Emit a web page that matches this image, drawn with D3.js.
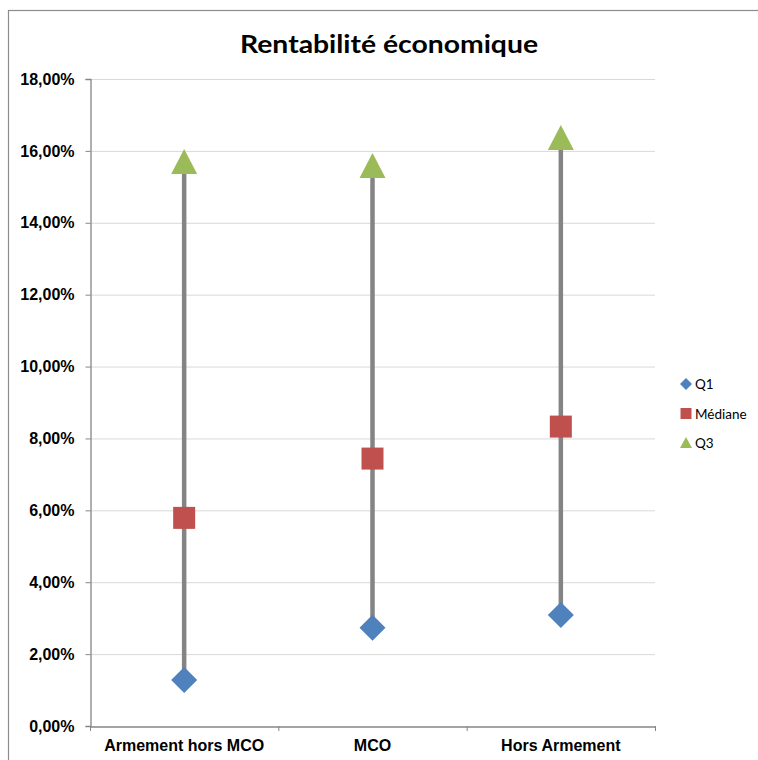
<!DOCTYPE html>
<html><head><meta charset="utf-8">
<script src="https://cdn.jsdelivr.net/npm/d3@7"></script>
<style>body{margin:0;background:#fff}svg{display:block}</style>
</head><body><div id="chart"></div>
<script>
const categories = ["Armement hors MCO", "MCO", "Hors Armement"];
const q1 = [0.0128, 0.0273, 0.0309];
const mediane = [0.0579, 0.0744, 0.0833];
const q3 = [0.1569, 0.1558, 0.1636];
const yTicks = [0, 0.02, 0.04, 0.06, 0.08, 0.10, 0.12, 0.14, 0.16, 0.18];
const seriesNames = ["Q1", "Médiane", "Q3"];

const W = 758, H = 760;
const svg = d3.select("#chart").append("svg").attr("width", W).attr("height", H);
svg.append("rect").attr("x", 8.5).attr("y", 10.5).attr("width", 760).attr("height", 770)
  .attr("fill", "#fff").attr("stroke", "#8c8c8c").attr("stroke-width", 1.2);

const plot = {l: 90, r: 655, t: 79, b: 726};
const x = d3.scaleBand().domain(categories).range([plot.l, plot.r]);
const y = d3.scaleLinear().domain([0, 0.18]).range([plot.b, plot.t]);
const fmt = v => d3.format(".2f")(v * 100).replace(".", ",") + "%";

// gridlines
svg.append("g").selectAll("line").data(yTicks.filter(d => d > 0)).join("line")
  .attr("x1", plot.l).attr("x2", plot.r).attr("y1", d => y(d) + 0.5).attr("y2", d => y(d) + 0.5)
  .attr("stroke", "#d9d9d9").attr("stroke-width", 1);

// y axis
const yAxis = svg.append("g").attr("transform", `translate(${plot.l + 0.5},0)`)
  .call(d3.axisLeft(y).tickValues(yTicks).tickFormat(fmt).tickSize(5).tickPadding(11));
yAxis.select(".domain").attr("stroke", "#868686").attr("stroke-width", 1.3);
yAxis.selectAll(".tick line").attr("stroke", "#868686");
yAxis.selectAll("text").attr("font-family", "Liberation Sans, Arial, sans-serif")
  .attr("font-weight", "bold").attr("font-size", 16).attr("fill", "#000");

// x axis
const xAxis = svg.append("g").attr("transform", `translate(0,${plot.b + 0.5})`)
  .call(d3.axisBottom(x).tickSize(0).tickPadding(13));
xAxis.select(".domain").attr("stroke", "#868686").attr("stroke-width", 1.3);
xAxis.selectAll("text").attr("font-family", "Liberation Sans, Arial, sans-serif")
  .attr("font-weight", "bold").attr("font-size", 16).attr("fill", "#000");
// category boundary ticks
const bounds = categories.map(c => x(c)).concat([plot.r]);
svg.append("g").selectAll("line").data(bounds).join("line")
  .attr("x1", d => d + 0.5).attr("x2", d => d + 0.5).attr("y1", plot.b).attr("y2", plot.b + 5)
  .attr("stroke", "#868686");

const cx = c => x(c) + x.bandwidth() / 2;

// high-low lines
svg.append("g").selectAll("line").data(categories).join("line")
  .attr("x1", cx).attr("x2", cx).attr("y1", (c, i) => y(q1[i])).attr("y2", (c, i) => y(q3[i]))
  .attr("stroke", "#848484").attr("stroke-width", 4.5);

const diamond = "M0,-13L13,0L0,13L-13,0Z";
const square = "M-11,-11H11V11H-11Z";
const tri = "M0,-13L13,12L-13,12Z";

svg.append("g").selectAll("path").data(categories).join("path")
  .attr("d", diamond).attr("fill", "#4f81bd")
  .attr("transform", (c, i) => `translate(${cx(c)},${y(q1[i])})`);
svg.append("g").selectAll("path").data(categories).join("path")
  .attr("d", square).attr("fill", "#c0504d")
  .attr("transform", (c, i) => `translate(${cx(c)},${y(mediane[i])})`);
svg.append("g").selectAll("path").data(categories).join("path")
  .attr("d", tri).attr("fill", "#9bbb59")
  .attr("transform", (c, i) => `translate(${cx(c)},${y(q3[i])})`);

// title
svg.append("text").attr("x", 389).attr("y", 53).attr("text-anchor", "middle")
  .attr("font-family", "Lato, 'Open Sans', sans-serif").attr("font-weight", "bold")
  .attr("font-size", 25).attr("textLength", 298).attr("lengthAdjust", "spacingAndGlyphs")
  .text("Rentabilité économique");

// legend
const legendShapes = [
  {d: "M0,-6L6,0L0,6L-6,0Z", fill: "#4f81bd"},
  {d: "M-5.5,-5.5H5.5V5.5H-5.5Z", fill: "#c0504d"},
  {d: "M0,-6L6,5L-6,5Z", fill: "#9bbb59"}
];
const lg = svg.append("g").selectAll("g").data(seriesNames).join("g")
  .attr("transform", (d, i) => `translate(686,${384 + i * 29.5})`);
lg.append("path").attr("d", (d, i) => legendShapes[i].d).attr("fill", (d, i) => legendShapes[i].fill);
lg.append("text").attr("x", 9).attr("y", 5).attr("font-family", "Lato, 'Open Sans', sans-serif")
  .attr("font-size", 13.5).attr("fill", "#000").text(d => d);
</script>
</body></html>
